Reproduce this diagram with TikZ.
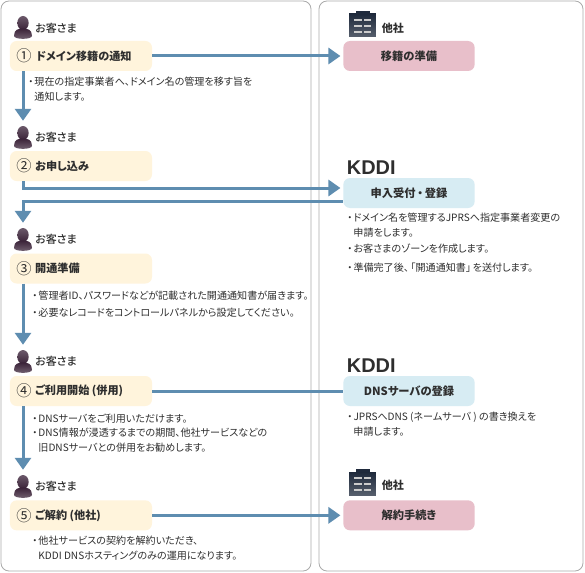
\documentclass[tikz,border=0pt]{standalone}
\usepackage{fontspec}
\setmainfont{Noto Sans CJK JP}[RawFeature=+palt]
\newfontfamily\mediumfont{Noto Sans CJK JP Medium}[RawFeature=+palt]
\newfontfamily\kddifont{Liberation Sans}
\usetikzlibrary{arrows.meta}
\newcommand{\itemdot}{\hbox to 0.72em{\hss・\hss}}
\newcommand{\itemgap}{\hspace*{0.72em}}
\tikzset{
  panel/.style={draw=black!33, line width=0.7pt, fill=white, rounded corners=0.24cm},
  stepcream/.style={fill=cream, rounded corners=0.2cm, minimum width=4.26cm, minimum height=0.9cm, inner sep=0pt},
  actpink/.style={fill=actpink, rounded corners=0.2cm, minimum width=3.94cm, minimum height=0.9cm, inner sep=0pt, font=\fontsize{9.6}{11}\selectfont\bfseries, text=ink},
  actblue/.style={actpink, fill=actblue},
  steplabel/.style={anchor=west, inner sep=0pt, font=\fontsize{9.5}{11}\selectfont\bfseries, text=ink},
  stepnum/.style={inner sep=0pt, font=\fontsize{13}{13}\selectfont, text=ink},
  wholabel/.style={anchor=west, inner sep=0pt, font=\mediumfont\fontsize{9.4}{11}\selectfont, text=ink},
  otherlabel/.style={wholabel, font=\fontsize{9.4}{11}\selectfont\bfseries},
  kddilabel/.style={anchor=west, inner sep=0pt, font=\kddifont\fontsize{17}{17}\selectfont\bfseries, text=ink},
  note/.style={anchor=west, inner sep=0pt, align=left, font=\fontsize{8.6}{12.8}\selectfont, text=ink},
  flow/.style={line width=0.09cm, draw=flowblue},
  flowtip/.style={flow, -{Triangle[length=0.36cm,width=0.48cm]}},
  customer/.style={minimum width=0.6cm, minimum height=0.69cm, inner sep=0pt, path picture={
    \begin{scope}[shift={(path picture bounding box.center)}]
      \shade[top color=person!75, bottom color=person] (0,0.135) ellipse (0.17 and 0.21);
      \shade[top color=person, bottom color=person!70] (-0.27,-0.25) .. controls (-0.27,-0.05) and (-0.12,-0.03) .. (0,-0.03) .. controls (0.12,-0.03) and (0.27,-0.05) .. (0.27,-0.25) .. controls (0.27,-0.37) and (-0.27,-0.37) .. cycle;
    \end{scope}}},
  building/.style={minimum width=0.8cm, minimum height=0.78cm, inner sep=0pt, path picture={
    \begin{scope}[shift={(path picture bounding box.center)}]
      \shade[top color=navy, bottom color=navy!75] (-0.4,-0.39) rectangle (0.4,0.3);
      \fill[navy] (-0.21,0.3) rectangle (0.21,0.39);
      \foreach \rowy in {0.12,-0.06,-0.24}{
        \fill[black!20] (-0.25,\rowy-0.03) rectangle (-0.01,\rowy+0.03);
        \fill[black!20] (0.03,\rowy-0.03) rectangle (0.26,\rowy+0.03);
      }
    \end{scope}}},
}
\definecolor{cream}{HTML}{FFF4DC}
\definecolor{actpink}{HTML}{E8BFCA}
\definecolor{actblue}{HTML}{D7ECF3}
\definecolor{flowblue}{HTML}{5E8DB0}
\definecolor{ink}{HTML}{2E2E2E}
\definecolor{person}{HTML}{3A2238}
\definecolor{navy}{HTML}{1F2A3C}
\begin{document}
\begin{tikzpicture}
\useasboundingbox (0,0) rectangle (17.55,17.16);
\draw[panel] (0.03,0.03) rectangle (9.33,17.13);
\draw[panel] (9.57,0.03) rectangle (17.49,17.13);
% customer side
\node[customer] (person1) at (0.69,16.335) {};
\node[customer] (person2) at (0.69,13.035) {};
\node[customer] (person3) at (0.69,9.975) {};
\node[customer] (person4) at (0.69,6.315) {};
\node[customer] (person5) at (0.69,2.565) {};
\node[wholabel] (who1) at (1.05,16.32) {お客さま};
\node[wholabel] (who2) at (1.05,13.03) {お客さま};
\node[wholabel] (who3) at (1.05,9.97) {お客さま};
\node[wholabel] (who4) at (1.05,6.31) {お客さま};
\node[wholabel] (who5) at (1.05,2.56) {お客さま};
\node[stepcream] (step1) at (2.43,15.48) {};
\node[stepcream] (step2) at (2.43,12.18) {};
\node[stepcream] (step3) at (2.43,9.105) {};
\node[stepcream] (step4) at (2.43,5.43) {};
\node[stepcream] (step5) at (2.43,1.7) {};
\node[stepnum] (num1) at (0.72,15.48) {①};
\node[stepnum] (num2) at (0.72,12.18) {②};
\node[stepnum] (num3) at (0.72,9.105) {③};
\node[stepnum] (num4) at (0.72,5.43) {④};
\node[stepnum] (num5) at (0.72,1.7) {⑤};
\node[steplabel] (name1) at (1.08,15.48) {ドメイン移籍の通知};
\node[steplabel] (name2) at (1.05,12.18) {お申し込み};
\node[steplabel] (name3) at (1.05,9.105) {開通準備};
\node[steplabel] (name4) at (1.05,5.43) {ご利用開始 (併用)};
\node[steplabel] (name5) at (1.05,1.7) {ご解約 (他社)};
\node[note] (note1) at (0.81,14.48) {\itemdot 現在の指定事業者へ、ドメイン名の管理を移す旨を\\\itemgap 通知します。};
\node[note] (note3a) at (0.93,8.28) {\itemdot 管理者ID、パスワードなどが記載された開通通知書が届きます。};
\node[note] (note3b) at (0.93,7.79) {\itemdot 必要なレコードをコントロールパネルから設定してください。};
\node[note] (note4a) at (0.93,4.61) {\itemdot DNSサーバをご利用いただけます。};
\node[note] (note4b) at (0.93,3.95) {\itemdot DNS情報が浸透するまでの期間、他社サービスなどの\\\itemgap 旧DNSサーバとの併用をお勧めします。};
\node[note] (note5) at (0.93,0.71) {\itemdot 他社サービスの契約を解約いただき、\\\itemgap KDDI DNSホスティングのみの運用になります。};
% other side
\node[building] (office1) at (10.875,16.44) {};
\node[building] (office2) at (10.875,2.69) {};
\node[otherlabel] (other1) at (11.45,16.32) {他社};
\node[otherlabel] (other2) at (11.45,2.6) {他社};
\node[kddilabel] (kddi1) at (10.4,12.12) {KDDI};
\node[kddilabel] (kddi2) at (10.4,6.19) {KDDI};
\node[actpink] (act1) at (12.27,15.48) {移籍の準備};
\node[actblue] (act2) at (12.27,11.37) {申入受付\,・\,登録};
\node[actblue] (act3) at (12.27,5.43) {DNSサーバの登録};
\node[actpink] (act4) at (12.27,1.7) {解約手続き};
\node[note] (note2a) at (10.38,10.4) {\itemdot ドメイン名を管理するJPRSへ指定事業者変更の\\\itemgap 申請をします。};
\node[note] (note2b) at (10.38,9.69) {\itemdot お客さまのゾーンを作成します。};
\node[note] (note2c) at (10.38,9.13) {\itemdot 準備完了後、\,「開通通知書」\,を送付します。};
\node[note] (note6) at (10.38,4.45) {\itemdot JPRSへDNS (ネームサーバ ) の書き換えを\\\itemgap 申請します。};
% flows
\draw[flowtip, shorten >=0.08cm] (step1) -- (act1);
\draw[flowtip, shorten >=0.15cm] (person2 |- step1.south) -- (person2.north);
\draw[flowtip, shorten >=0.08cm] (person2 |- step2.south) |- ([yshift=0.15cm]act2.west);
\draw[flowtip, shorten >=0.15cm] ([yshift=-0.24cm]act2.west) -| (person3.north);
\draw[flowtip, shorten >=0.15cm] (person4 |- step3.south) -- (person4.north);
\draw[flow] (step4.east) -- (act3.west);
\draw[flowtip, shorten >=0.15cm] (person5 |- step4.south) -- (person5.north);
\draw[flowtip, shorten >=0.08cm] (step5.east) -- (act4.west);
\end{tikzpicture}
\end{document}
